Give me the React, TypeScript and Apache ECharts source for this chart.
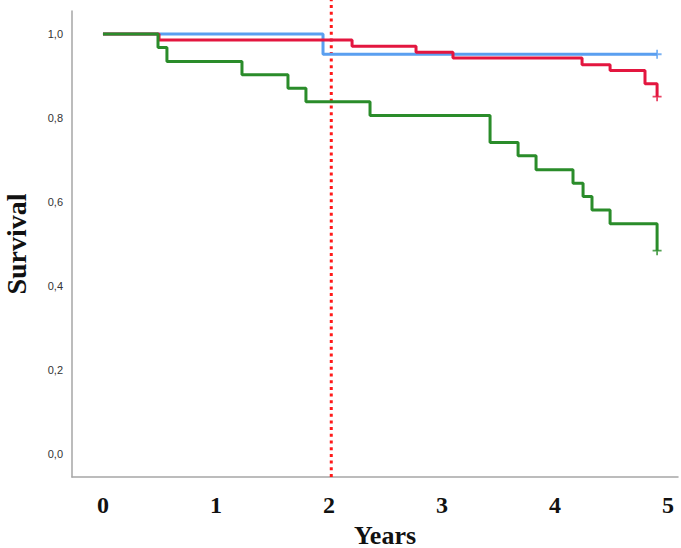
import React, { useEffect, useRef } from "react";
import * as echarts from "echarts";

// Kaplan–Meier step data: [years, survival]
const blueCurve: [number, number][] = [
  [0, 1.0],
  [1.947, 0.952],
  [4.903, 0.952],
];
const redCurve: [number, number][] = [
  [0, 1.0],
  [0.496, 0.986],
  [2.204, 0.971],
  [2.77, 0.957],
  [3.097, 0.943],
  [4.239, 0.927],
  [4.487, 0.913],
  [4.796, 0.882],
  [4.903, 0.851],
];
const greenCurve: [number, number][] = [
  [0, 1.0],
  [0.487, 0.968],
  [0.566, 0.935],
  [1.23, 0.903],
  [1.637, 0.871],
  [1.796, 0.839],
  [2.363, 0.806],
  [3.425, 0.742],
  [3.673, 0.71],
  [3.832, 0.677],
  [4.159, 0.645],
  [4.248, 0.613],
  [4.327, 0.581],
  [4.487, 0.548],
  [4.903, 0.484],
];
const censored = {
  blue: [[4.903, 0.952]],
  red: [[4.903, 0.851]],
  green: [[4.903, 0.484]],
};
const cutoffLine: [number, number][] = [
  [2.02, -0.055],
  [2.02, 1.082],
];
const xTicks = [0, 1, 2, 3, 4, 5];
const yTicks = [0, 0.2, 0.4, 0.6, 0.8, 1.0];

const BLUE = "#5a9ff0";
const RED = "#e3163f";
const GREEN = "#2a8c2a";
const PLUS = "path://M4,0h2v4h4v2h-4v4h-2v-4h-4v-2h4z";

export default function App() {
  const ref = useRef<HTMLDivElement>(null);
  useEffect(() => {
    if (!ref.current) return;
    const chart = echarts.init(ref.current, undefined, { renderer: "svg" });
    const stepSeries = (name: string, data: [number, number][], color: string, extra: any = {}) => ({
      name,
      type: "line",
      step: "end",
      data,
      showSymbol: false,
      clip: false,
      lineStyle: { color, width: 3 },
      itemStyle: { color },
      z: 2,
      ...extra,
    });
    const censorSeries = (data: number[][], color: string) => ({
      type: "scatter",
      data,
      symbol: PLUS,
      symbolSize: 9,
      itemStyle: { color },
      z: 4,
    });
    chart.setOption({
      animation: false,
      backgroundColor: "#ffffff",
      grid: { left: 72, right: 3, top: 11, bottom: 71, containLabel: false, outerBoundsMode: "none" },
      xAxis: {
        type: "value",
        min: -0.274,
        max: 5.088,
        name: "Years",
        nameLocation: "middle",
        nameGap: 45,
        nameTextStyle: {
          fontFamily: "Liberation Serif",
          fontWeight: "bold",
          fontSize: 26,
          color: "#111",
          padding: [0, 0, 0, 20],
        },
        axisLine: { show: true, onZero: false, lineStyle: { color: "#a6a6a6", width: 1.5 } },
        axisTick: { show: false },
        splitLine: { show: false },
        axisLabel: {
          customValues: xTicks,
          margin: 16,
          fontFamily: "Liberation Serif",
          fontWeight: "bold",
          fontSize: 24,
          color: "#111",
          formatter: (v: number) => String(v),
        },
      },
      yAxis: {
        type: "value",
        min: -0.055,
        max: 1.055,
        name: "Survival",
        nameLocation: "middle",
        nameGap: 42,
        nameRotate: 90,
        nameTextStyle: {
          fontFamily: "Liberation Serif",
          fontWeight: "bold",
          fontSize: 28,
          color: "#111",
        },
        axisLine: { show: true, onZero: false, lineStyle: { color: "#a6a6a6", width: 1.5 } },
        axisTick: { show: false },
        splitLine: { show: false },
        axisLabel: {
          customValues: yTicks,
          margin: 9,
          fontFamily: "Liberation Sans",
          fontSize: 11,
          color: "#333",
          formatter: (v: number) => v.toFixed(1).replace(".", ","),
        },
      },
      series: [
        {
          name: "cutoff",
          type: "line",
          data: cutoffLine,
          showSymbol: false,
          clip: false,
          silent: true,
          lineStyle: { color: "#ff1a1a", width: 3, type: [3, 3.7] },
          z: 1,
        },
        stepSeries("blue", blueCurve, BLUE),
        stepSeries("red", redCurve, RED),
        stepSeries("green", greenCurve, GREEN, { z: 3 }),
        censorSeries(censored.blue, BLUE),
        censorSeries(censored.red, RED),
        censorSeries(censored.green, GREEN),
      ],
    });
    return () => chart.dispose();
  }, []);
  return (
    <div
      ref={ref}
      style={{ position: "fixed", left: 0, top: 0, width: 681, height: 548, background: "#fff" }}
    />
  );
}
